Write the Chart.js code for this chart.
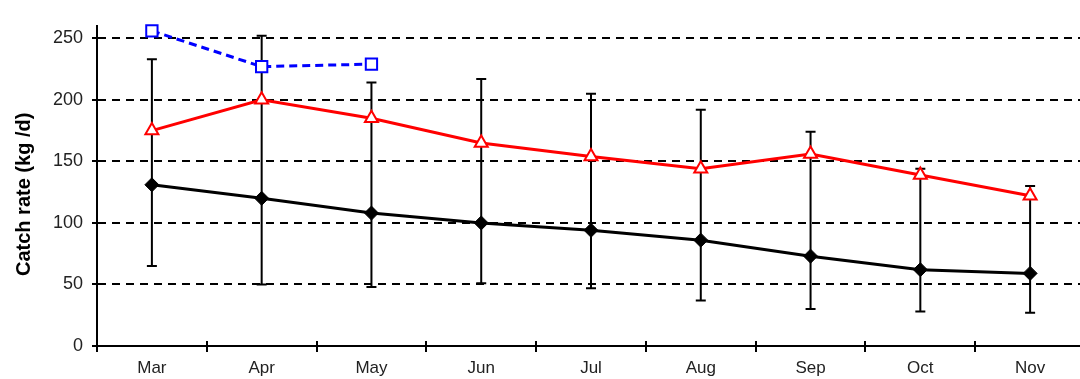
<!DOCTYPE html>
<html>
<head>
<meta charset="utf-8">
<script src="https://cdn.jsdelivr.net/npm/chart.js@4"></script>
<style>
  html, body { margin: 0; padding: 0; background: #fff; overflow: hidden; }
  #wrap { width: 1095px; height: 379px; }
</style>
</head>
<body>
<div id="wrap"><canvas id="chart" width="1095" height="379"></canvas></div>
<script>
// months on the x axis
const months = ['Mar', 'Apr', 'May', 'Jun', 'Jul', 'Aug', 'Sep', 'Oct', 'Nov'];
// blue dashed series (only first three months)
const blueVals = [256, 227, 229, null, null, null, null, null, null];
// red series, open triangles
const redVals = [175, 200, 185, 165, 154, 144, 156, 139, 122];
// black series, filled diamonds
const blackVals = [131, 120, 108, 100, 94, 86, 73, 62, 59];
// error bars for the black series
const errLow = [65, 50, 48, 51, 47, 37, 30, 28, 27];
const errHigh = [233, 252, 214, 217, 205, 192, 174, 144, 130];
const yTicks = [0, 50, 100, 150, 200, 250];

const errorBars = {
  id: 'errorBars',
  beforeDatasetsDraw(chart) {
    const { ctx, scales: { x, y } } = chart;
    ctx.save();
    ctx.strokeStyle = '#000';
    ctx.lineWidth = 2;
    errLow.forEach((lo, i) => {
      const px = x.getPixelForValue(i);
      const yl = y.getPixelForValue(lo);
      const yh = y.getPixelForValue(errHigh[i]);
      ctx.beginPath();
      ctx.moveTo(px, yl); ctx.lineTo(px, yh);
      ctx.moveTo(px - 5, yl); ctx.lineTo(px + 5, yl);
      ctx.moveTo(px - 5, yh); ctx.lineTo(px + 5, yh);
      ctx.stroke();
    });
    ctx.restore();
  }
};

// tick marks that cross into the plot, as in the original
const innerTicks = {
  id: 'innerTicks',
  afterDraw(chart) {
    const { ctx, scales: { x, y } } = chart;
    ctx.save();
    ctx.strokeStyle = '#000';
    ctx.lineWidth = 2;
    ctx.beginPath();
    for (let i = 0; i <= months.length; i++) {
      const px = Math.round(x.getPixelForValue(i - 0.5));
      ctx.moveTo(px, y.bottom); ctx.lineTo(px, y.bottom - 5);
    }
    yTicks.forEach(v => {
      const py = Math.round(y.getPixelForValue(v));
      ctx.moveTo(x.left, py); ctx.lineTo(x.left + 3, py);
    });
    ctx.stroke();
    ctx.restore();
  }
};

const fam = 'Liberation Sans, Arial, sans-serif';

new Chart(document.getElementById('chart'), {
  type: 'line',
  data: {
    labels: months,
    datasets: [
      {
        data: blueVals, borderColor: '#0000ff', borderWidth: 3, borderDash: [8, 5],
        pointStyle: 'rect', pointRadius: 8, pointBorderWidth: 2, clip: false,
        pointBackgroundColor: '#fff', pointBorderColor: '#0000ff', spanGaps: false
      },
      {
        data: redVals, borderColor: '#ff0000', borderWidth: 3, clip: false,
        pointStyle: 'triangle', pointRadius: 7.5, pointBorderWidth: 2,
        pointBackgroundColor: '#fff', pointBorderColor: '#ff0000'
      },
      {
        data: blackVals, borderColor: '#000', borderWidth: 3, clip: false,
        pointStyle: 'rectRot', pointRadius: 7, pointBorderWidth: 1,
        pointBackgroundColor: '#000', pointBorderColor: '#000'
      }
    ]
  },
  options: {
    responsive: false,
    animation: false,
    layout: { padding: { top: 26, right: 0, left: 0, bottom: 0 } },
    plugins: { legend: { display: false }, tooltip: { enabled: false } },
    elements: { line: { tension: 0 } },
    scales: {
      x: {
        offset: true,
        grid: { offset: true, drawOnChartArea: false, color: '#000', lineWidth: 2, tickLength: 6 },
        border: { color: '#000', width: 2 },
        ticks: { color: '#222', font: { family: fam, size: 17 }, padding: 6, maxRotation: 0 },
        afterFit: s => { s.height = 33; }
      },
      y: {
        min: 0, max: 260,
        afterBuildTicks: s => { s.ticks = yTicks.map(v => ({ value: v })); },
        grid: {
          color: ctx => ctx.tick && ctx.tick.value === 0 ? 'rgba(0,0,0,0)' : '#000',
          lineWidth: 2, tickLength: 5, tickColor: '#000'
        },
        border: { color: '#000', width: 2, dash: [8, 6] },
        ticks: { color: '#222', font: { family: fam, size: 18 }, padding: 9 },
        title: {
          display: true, text: 'Catch rate (kg /d)\u00a0\u00a0\u00a0', color: '#000',
          font: { family: fam, size: 20, weight: 'bold' },
          padding: { top: 12, bottom: 0 }
        },
        afterFit: s => { s.width = 97; }
      }
    }
  },
  plugins: [errorBars, innerTicks]
});
</script>
</body>
</html>
